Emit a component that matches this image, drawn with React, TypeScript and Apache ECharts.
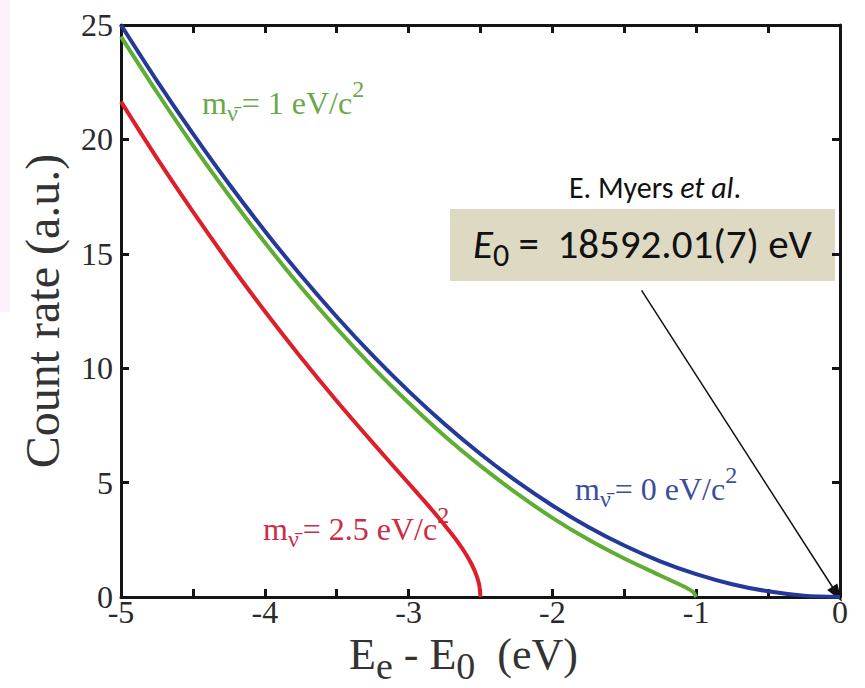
import React, { useEffect, useRef } from 'react';
import * as echarts from 'echarts';

const xTicks = [-5, -4, -3, -2, -1, 0];
const yTicks = [0, 5, 10, 15, 20, 25];

// m = 0 eV/c^2 (blue)
const blueEnergy = [-5, -4.75, -4.5, -4.25, -4, -3.75, -3.5, -3.25, -3, -2.75, -2.5, -2.25, -2, -1.75, -1.5, -1.25, -1, -0.75, -0.5, -0.25, 0];
const blueCount = [25, 22.56, 20.25, 18.06, 16, 14.06, 12.25, 10.56, 9, 7.56, 6.25, 5.06, 4, 3.06, 2.25, 1.56, 1, 0.56, 0.25, 0.06, 0];

// m = 1 eV/c^2 (green)
const greenEnergy = [-5, -4.75, -4.5, -4.25, -4, -3.75, -3.5, -3.25, -3, -2.75, -2.5, -2.25, -2, -1.75, -1.5, -1.25, -1.1, -1.05, -1.02, -1];
const greenCount = [24.49, 22.06, 19.74, 17.56, 15.49, 13.55, 11.74, 10.05, 8.49, 7.04, 5.73, 4.54, 3.46, 2.51, 1.68, 0.94, 0.5, 0.34, 0.21, 0];

// m = 2.5 eV/c^2 (red)
const redEnergy = [-5, -4.75, -4.5, -4.25, -4, -3.75, -3.5, -3.25, -3, -2.9, -2.8, -2.7, -2.65, -2.6, -2.56, -2.53, -2.51, -2.5];
const redCount = [21.65, 19.18, 16.84, 14.61, 12.49, 10.48, 8.57, 6.75, 4.97, 4.26, 3.53, 2.75, 2.33, 1.86, 1.41, 0.98, 0.56, 0];

const arrowFrom = [-1.38, 13.4];
const arrowTo = [-0.02, 0.12];

const SERIF = '"Liberation Serif", "Times New Roman", "DejaVu Serif", serif';
const SANS = 'Carlito, Lato, "Open Sans", sans-serif';

const pair = (xs: number[], ys: number[]) => xs.map((x, i) => [x, ys[i]]);

const massLabel = (value: string, color: string) => ({
  text: `{m|m}{s|\u03BD\u0304}{m|= ${value} eV/c}{p|2}`,
  rich: {
    m: { fontSize: 32, fontFamily: SERIF, fill: color, lineHeight: 32, padding: [0, 0, 6, 0], verticalAlign: 'bottom' },
    s: { fontSize: 24, fontFamily: SERIF, fill: color, lineHeight: 24, padding: [0, 4, 0, 0], verticalAlign: 'bottom' },
    p: { fontSize: 24, fontFamily: SERIF, fill: color, lineHeight: 24, padding: [0, 0, 24, 0], verticalAlign: 'bottom' },
  },
  verticalAlign: 'middle',
  align: 'left',
});

export default function App() {
  const ref = useRef<HTMLDivElement>(null);
  useEffect(() => {
    if (!ref.current) return;
    const chart = echarts.init(ref.current, null, { renderer: 'svg' });
    const axisLine = { show: true, onZero: false, lineStyle: { color: '#141414', width: 3 } };
    const axisTick = { show: true, inside: true, length: 8, lineStyle: { color: '#141414', width: 3 } };
    const labelStyle = { fontFamily: SERIF, fontSize: 32, color: '#2a2a2a' };
    chart.setOption({
      animation: false,
      backgroundColor: '#ffffff',
      grid: { left: 121, right: 25, top: 25, bottom: 91, containLabel: false, outerBoundsMode: 'none' },
      xAxis: [
        {
          type: 'value', min: -5, max: 0, interval: 0.5, position: 'bottom',
          axisLine, axisTick, splitLine: { show: false },
          axisLabel: { ...labelStyle, lineHeight: 26, margin: 2, formatter: (v: number) => (xTicks.includes(v) ? String(v) : '') },
          name: '{n|E}{s|e}{n| - E}{s|0}{n|  (eV)}',
          nameLocation: 'middle', nameGap: 35, nameMoveOverlap: false,
          nameTextStyle: {
            padding: [0, 34, 0, 0],
            rich: {
              n: { fontFamily: SERIF, fontSize: 44, color: '#333', lineHeight: 40, verticalAlign: 'top' },
              s: { fontFamily: SERIF, fontSize: 38, color: '#333', lineHeight: 36, padding: [15, 0, 0, 0], verticalAlign: 'top' },
            },
          },
        },
        {
          type: 'value', min: -5, max: 0, interval: 0.5, position: 'top',
          axisLine, axisTick, splitLine: { show: false }, axisLabel: { show: false },
        },
      ],
      yAxis: [
        {
          type: 'value', min: 0, max: 25, interval: 5, position: 'left',
          axisLine, axisTick, splitLine: { show: false },
          axisLabel: { ...labelStyle, lineHeight: 26, margin: 8, formatter: (v: number) => (yTicks.includes(v) ? String(v) : '') },
          name: 'Count rate (a.u.)', nameLocation: 'middle', nameGap: 55, nameRotate: 90, nameMoveOverlap: false,
          nameTextStyle: { fontFamily: SERIF, fontSize: 48, color: '#333' },
        },
        {
          type: 'value', min: 0, max: 25, interval: 5, position: 'right',
          axisLine, axisTick, splitLine: { show: false }, axisLabel: { show: false },
        },
      ],
      series: [
        {
          name: 'm = 2.5 eV/c2', type: 'line', data: pair(redEnergy, redCount), showSymbol: false,
          smooth: 0.3, lineStyle: { color: '#dc1f2b', width: 4 }, z: 3,
        },
        {
          name: 'm = 1 eV/c2', type: 'line', data: pair(greenEnergy, greenCount), showSymbol: false,
          smooth: 0.3, lineStyle: { color: '#5fae33', width: 4 }, z: 4,
        },
        {
          name: 'm = 0 eV/c2', type: 'line', data: pair(blueEnergy, blueCount), showSymbol: false,
          smooth: 0.3, lineStyle: { color: '#24399a', width: 4 }, z: 5,
          markLine: {
            silent: true, symbol: ['none', 'triangle'], symbolSize: [12, 18],
            lineStyle: { color: '#111', width: 1.5, type: 'solid' }, label: { show: false },
            data: [[{ coord: arrowFrom }, { coord: arrowTo }]],
          },
        },
      ],
      graphic: [
        { type: 'rect', shape: { x: 0, y: 0, width: 10, height: 312 }, style: { fill: '#fbf1fb' }, silent: true },
        { type: 'text', x: 202, y: 109, style: massLabel('1', '#6aa84a') },
        { type: 'text', x: 575, y: 495, style: massLabel('0', '#3c4d9c') },
        { type: 'text', x: 263, y: 535, style: massLabel('2.5', '#cc2c44') },
        {
          type: 'text', x: 655, y: 187,
          style: {
            text: '{n|E. Myers }{i|et al}{n|.}',
            rich: {
              n: { fontFamily: SANS, fontSize: 30, fill: '#111' },
              i: { fontFamily: SANS, fontSize: 30, fill: '#111', fontStyle: 'italic' },
            },
            align: 'center', verticalAlign: 'middle',
          },
        },
        { type: 'rect', shape: { x: 450, y: 209, width: 385, height: 72 }, style: { fill: '#ddd9c3' } },
        {
          type: 'text', x: 473, y: 244,
          style: {
            text: '{i|E}{s|0}{n| =  18592.01(7) eV}',
            rich: {
              i: { fontFamily: SANS, fontSize: 41, fill: '#111', fontStyle: 'italic', lineHeight: 41, verticalAlign: 'top' },
              n: { fontFamily: SANS, fontSize: 41, fill: '#111', lineHeight: 41, verticalAlign: 'top' },
              s: { fontFamily: SANS, fontSize: 32, fill: '#111', lineHeight: 32, padding: [16, 0, 0, 0], verticalAlign: 'top' },
            },
            align: 'left', verticalAlign: 'middle',
          },
        },
      ],
    });
    return () => chart.dispose();
  }, []);
  return <div ref={ref} style={{ position: 'fixed', left: 0, top: 0, width: 865, height: 688 }} />;
}
